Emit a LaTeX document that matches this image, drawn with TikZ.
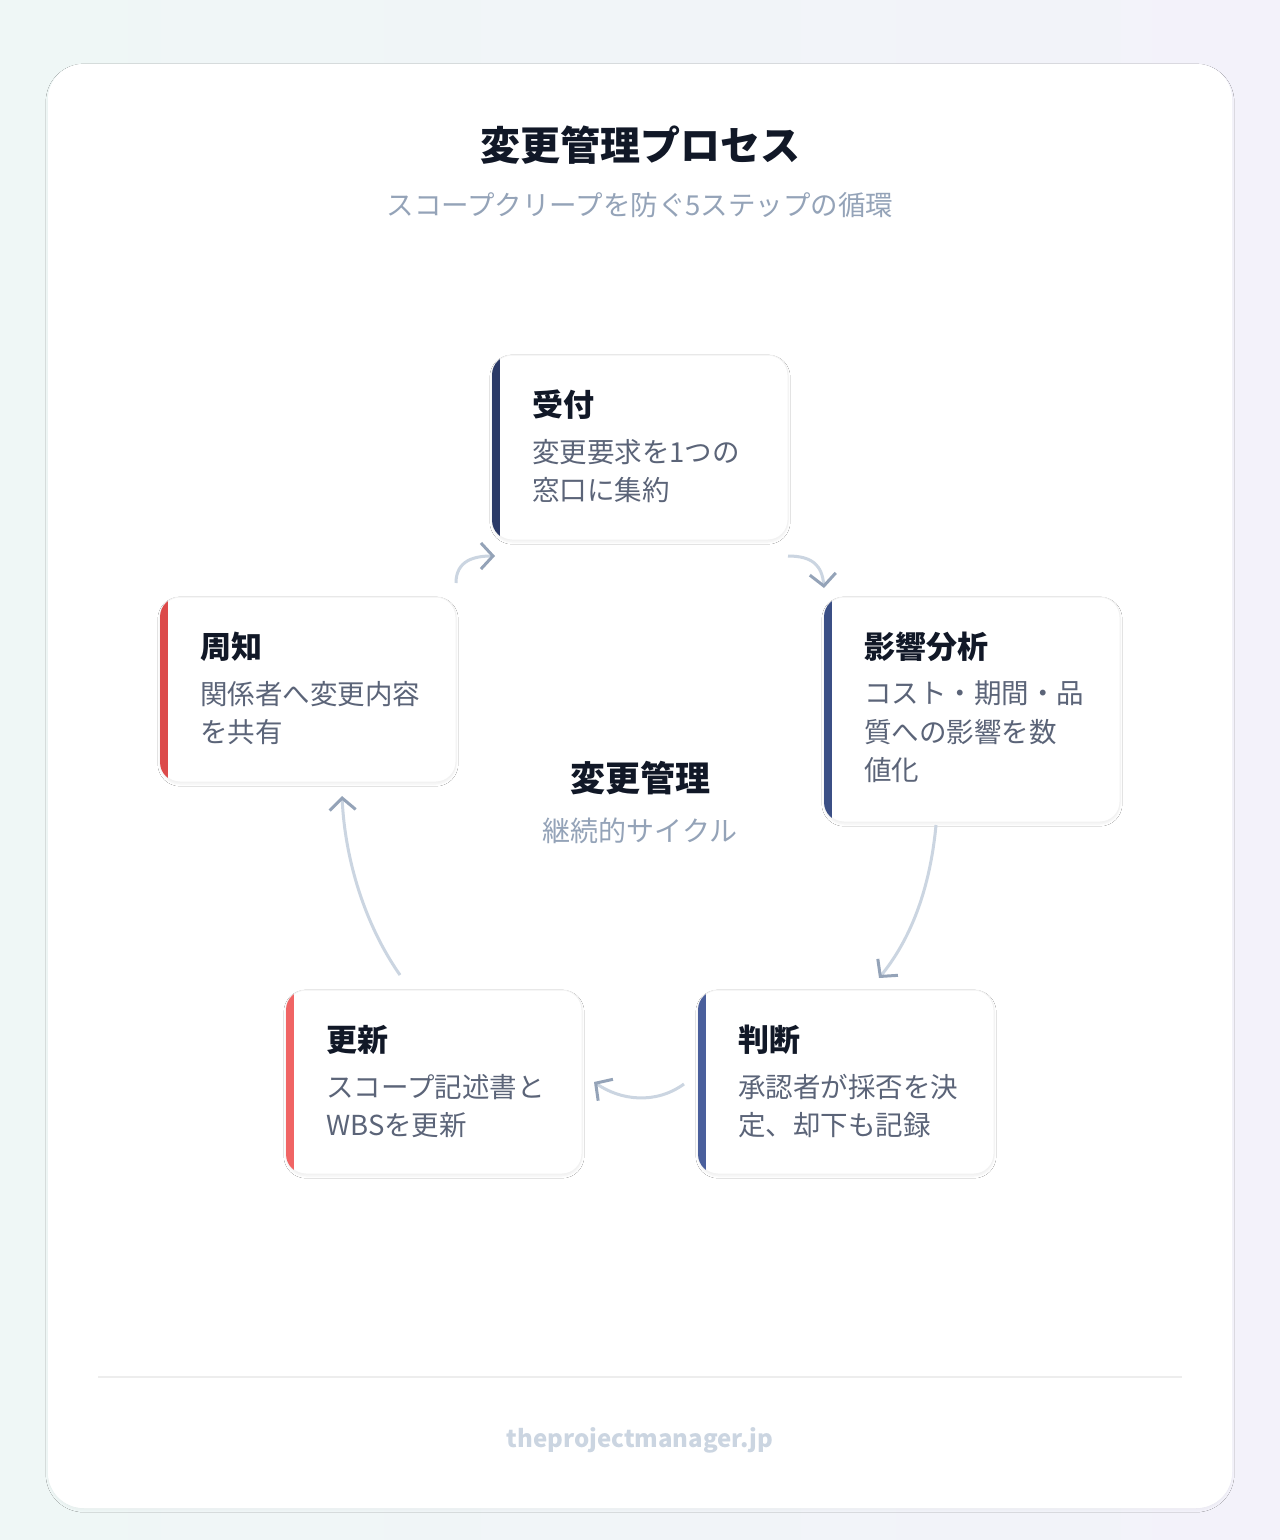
\documentclass[tikz,border=0pt]{standalone}
\usepackage{fontspec}
\setmainfont{Noto Sans CJK JP}
\usetikzlibrary{arrows.meta,shadows.blur}
\definecolor{bgA}{HTML}{EFF7F6}
\definecolor{bgB}{HTML}{F3F2FA}
\definecolor{ink}{HTML}{111827}
\definecolor{body}{HTML}{5B6478}
\definecolor{muted}{HTML}{94A3B8}
\definecolor{curve}{HTML}{CBD5E1}
\definecolor{tip}{HTML}{94A3B8}
\definecolor{barA}{HTML}{2B3A67}
\definecolor{barB}{HTML}{3B4F85}
\definecolor{barC}{HTML}{4A5F9C}
\definecolor{barD}{HTML}{F06464}
\definecolor{barE}{HTML}{DC4A4A}
\begin{document}
\begin{tikzpicture}[x=1pt,y=-1pt,
  card/.style={draw=black!5,fill=white,rounded corners=20pt,line width=1pt,blur shadow={shadow blur steps=6,shadow xshift=0pt,shadow yshift=-2pt,shadow opacity=6}},
  ttl/.style={anchor=north west,font=\bfseries\fontsize{31}{36}\selectfont,text=ink,inner sep=0},
  bdy/.style={anchor=north west,font=\fontsize{27.5}{38.5}\selectfont,text=body,inner sep=0,align=left},
  flow/.style={line width=3pt,curve,-{Straight Barb[length=12pt,width=26pt,line width=3pt,color=tip]}}]
\useasboundingbox (0,0) rectangle (1280,1540);
\shade[left color=bgA,right color=bgB] (0,0) rectangle (1280,1540);
\fill[white,blur shadow={shadow blur steps=6,shadow xshift=0pt,shadow yshift=-2pt,shadow opacity=4}] (48,64) [rounded corners=36pt] rectangle (1232,1508);
\fill[white] (48,64) [rounded corners=36pt] rectangle (1232,1508);
\node (title) at (640,145) {\bfseries\fontsize{40}{48}\selectfont\color{ink}変更管理プロセス};
\node (sub) at (640,205) {\fontsize{27.5}{32}\selectfont\color{muted}スコープクリープを防ぐ5ステップの循環};
\node (c1) at (640,778) {\bfseries\fontsize{35}{40}\selectfont\color{ink}変更管理};
\node (c2) at (640,831) {\fontsize{28}{32}\selectfont\color{muted}継続的サイクル};
% boxes
\newcommand{\stepbox}[7]{%
  \path[card] (#1,#2) rectangle (#3,#4);
  \begin{scope}
    \clip[rounded corners=20pt] (#1,#2) rectangle (#3,#4);
    \fill[#5] (#1,#2) rectangle (#1+8,#4);
  \end{scope}
  \node[ttl] at (#1+40,#2+35) {#6};
  \node[bdy] at (#1+40,#2+84) {#7};}
\stepbox{492}{355}{788}{540}{barA}{受付}{変更要求を1つの\\窓口に集約}
\stepbox{824}{597}{1120}{822}{barB}{影響分析}{コスト・期間・品\\質への影響を数\\値化}
\stepbox{698}{990}{994}{1174}{barC}{判断}{承認者が採否を決\\定、却下も記録}
\stepbox{286}{990}{582}{1174}{barD}{更新}{スコープ記述書と\\WBSを更新}
\stepbox{160}{597}{456}{782}{barE}{周知}{関係者へ変更内容\\を共有}
\coordinate (a1s) at (456,583); \coordinate (a1e) at (495,556);
\coordinate (a2s) at (788,556); \coordinate (a2e) at (824,588);
\coordinate (a3s) at (936,825); \coordinate (a3e) at (879,978);
\coordinate (a4s) at (684,1084); \coordinate (a4e) at (594,1082);
\coordinate (a5s) at (400,975); \coordinate (a5e) at (342,796);
\draw[flow] (a1s) .. controls (456,560) and (475,556) .. (a1e);
\draw[flow] (a2s) .. controls (812,556) and (822,565) .. (a2e);
\draw[flow] (a3s) .. controls (930,890) and (910,940) .. (a3e);
\draw[flow] (a4s) .. controls (655,1105) and (620,1100) .. (a4e);
\draw[flow] (a5s) .. controls (365,925) and (345,860) .. (a5e);
\draw[line width=1.5pt,black!7] (98,1377) -- (1182,1377);
\node (foot) at (640,1440) {\bfseries\fontsize{24}{28}\selectfont\color{curve}theprojectmanager.jp};
\end{tikzpicture}
\end{document}
